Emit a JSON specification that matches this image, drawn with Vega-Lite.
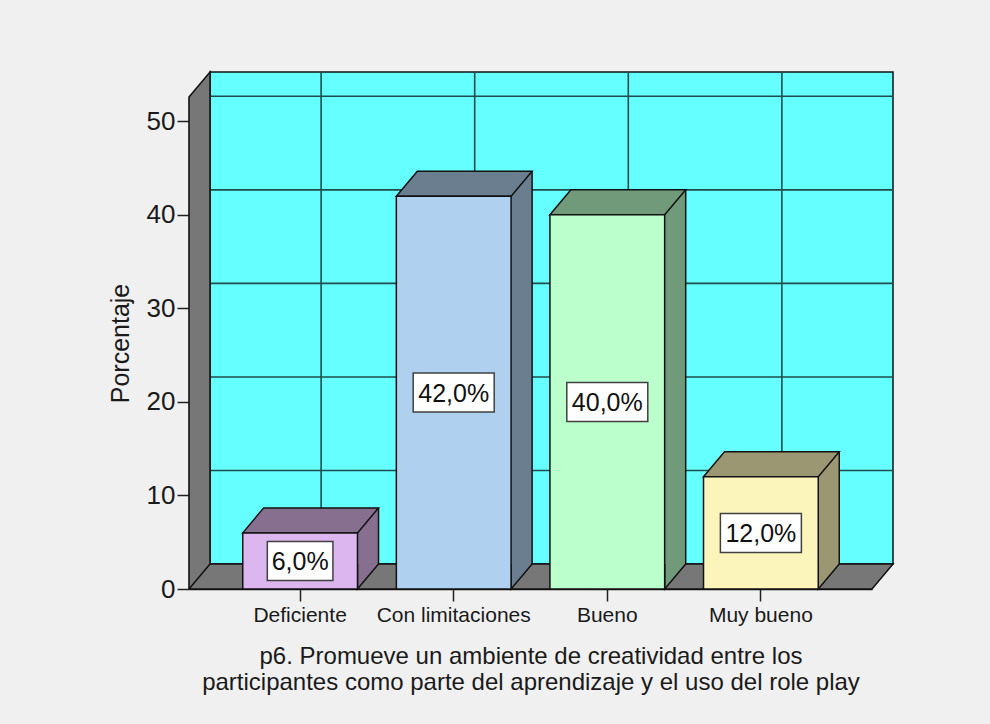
{
  "$schema": "https://vega.github.io/schema/vega-lite/v6.json",
  "width": 683,
  "height": 492,
  "autosize": {"type": "none"},
  "padding": {"left": 189, "top": 97, "right": 118, "bottom": 135},
  "background": "#f0f0f0",
  "config": {
    "view": {"stroke": null},
    "font": "Liberation Sans",
    "locale": {"number": {"decimal": ",", "thousands": ".", "grouping": [3], "currency": ["", "%"]}}
  },
  "data": {
    "values": [
      {"categoria": "Deficiente", "porcentaje": 6},
      {"categoria": "Con limitaciones", "porcentaje": 42},
      {"categoria": "Bueno", "porcentaje": 40},
      {"categoria": "Muy bueno", "porcentaje": 12}
    ]
  },
  "layer": [
    {
      "layer": [
        {
          "data": {"values": [{}]},
          "mark": {"type": "rect", "fill": "#66ffff", "stroke": "#111111", "strokeWidth": 1.5, "opacity": 1, "xOffset": 21, "x2Offset": 21, "yOffset": -25, "y2Offset": -25},
          "encoding": {
            "x": {"value": 0},
            "x2": {"value": "width"},
            "y": {"datum": 52.6, "type": "quantitative", "scale": {"domain": [0, 52.6], "nice": false, "zero": true}, "title": "Porcentaje"},
            "y2": {"datum": 0}
          }
        },
        {
          "data": {"values": [{"nivel": 10}, {"nivel": 20}, {"nivel": 30}, {"nivel": 40}, {"nivel": 50}]},
          "mark": {"type": "rule", "color": "#1f4d4d", "strokeWidth": 1.6, "opacity": 1, "xOffset": 21, "x2Offset": 21, "yOffset": -25},
          "encoding": {
            "x": {"value": 0},
            "x2": {"value": "width"},
            "y": {"field": "nivel", "type": "quantitative", "scale": {"domain": [0, 52.6], "nice": false, "zero": true}, "title": "Porcentaje"}
          }
        },
        {
          "mark": {"type": "rule", "color": "#1f4d4d", "strokeWidth": 1.6, "opacity": 1, "xOffset": 21, "yOffset": -25, "y2Offset": -25},
          "encoding": {
            "x": {"field": "categoria", "type": "nominal", "sort": ["Deficiente", "Con limitaciones", "Bueno", "Muy bueno"], "scale": {"paddingInner": 0.253, "paddingOuter": 0.35}},
            "y": {"datum": 0, "type": "quantitative", "scale": {"domain": [0, 52.6], "nice": false, "zero": true}},
            "y2": {"datum": 52.6}
          }
        },
        {
          "data": {"values": [{}]},
          "mark": {"type": "point", "shape": "M0,-492L21,-517L21,-25L704,-25L683,0L0,0ZM0,0L21,-25", "size": 4, "filled": true, "fill": "#777777", "stroke": "#111111", "strokeWidth": 1.5, "opacity": 1},
          "encoding": {
            "x": {"value": 0},
            "y": {"datum": 0, "type": "quantitative", "scale": {"domain": [0, 52.6], "nice": false, "zero": true}}
          }
        },
        {
          "mark": {"type": "bar", "opacity": 1, "xOffset": 21, "yOffset": -25, "y2Offset": -25},
          "encoding": {
            "x": {"field": "categoria", "type": "nominal", "sort": ["Deficiente", "Con limitaciones", "Bueno", "Muy bueno"], "scale": {"paddingInner": 0.253, "paddingOuter": 0.35}},
            "y": {"field": "porcentaje", "type": "quantitative", "scale": {"domain": [0, 52.6], "nice": false, "zero": true}, "title": "Porcentaje"},
            "y2": {"datum": 0},
            "fill": {"field": "categoria", "type": "nominal", "scale": {"domain": ["Deficiente", "Con limitaciones", "Bueno", "Muy bueno"], "range": ["#87708f", "#6a7e90", "#719a7a", "#9a9772"]}, "legend": null}
          }
        },
        {
          "mark": {"type": "point", "shape": "M-57.4,0L57.4,0L78.4,-25L-36.4,-25Z", "size": 4, "filled": true, "stroke": "#111111", "strokeWidth": 1.5, "opacity": 1},
          "encoding": {
            "x": {"field": "categoria", "type": "nominal", "sort": ["Deficiente", "Con limitaciones", "Bueno", "Muy bueno"], "scale": {"paddingInner": 0.253, "paddingOuter": 0.35}},
            "y": {"field": "porcentaje", "type": "quantitative", "scale": {"domain": [0, 52.6], "nice": false, "zero": true}, "title": "Porcentaje"},
            "fill": {"field": "categoria", "type": "nominal", "legend": null}
          }
        },
        {
          "mark": {"type": "rule", "color": "#111111", "strokeWidth": 1.5, "opacity": 1, "xOffset": 78.4, "yOffset": -25, "y2Offset": -25},
          "encoding": {
            "x": {"field": "categoria", "type": "nominal", "sort": ["Deficiente", "Con limitaciones", "Bueno", "Muy bueno"], "scale": {"paddingInner": 0.253, "paddingOuter": 0.35}},
            "y": {"field": "porcentaje", "type": "quantitative", "scale": {"domain": [0, 52.6], "nice": false, "zero": true}, "title": "Porcentaje"},
            "y2": {"datum": 0}
          }
        },
        {
          "mark": {"type": "point", "shape": "M57.4,-25L57.4,0L78.4,-25", "size": 4, "filled": true, "stroke": "#111111", "strokeWidth": 1.5, "opacity": 1},
          "encoding": {
            "x": {"field": "categoria", "type": "nominal", "sort": ["Deficiente", "Con limitaciones", "Bueno", "Muy bueno"], "scale": {"paddingInner": 0.253, "paddingOuter": 0.35}},
            "y": {"datum": 0, "type": "quantitative", "scale": {"domain": [0, 52.6], "nice": false, "zero": true}},
            "fill": {"field": "categoria", "type": "nominal", "legend": null}
          }
        },
        {
          "mark": {"type": "bar", "opacity": 1, "stroke": "#111111", "strokeWidth": 1.5},
          "encoding": {
            "x": {
              "field": "categoria", "type": "nominal",
              "sort": ["Deficiente", "Con limitaciones", "Bueno", "Muy bueno"],
              "scale": {"paddingInner": 0.253, "paddingOuter": 0.35},
              "axis": {
                "title": ["p6. Promueve un ambiente de creatividad entre los", "participantes como parte del aprendizaje y el uso del role play"],
                "orient": "bottom",
                "labelAngle": 0, "labelAlign": "center", "labelBaseline": "top",
                "labelFontSize": 21, "labelColor": "#1a1a1a", "labelPadding": 3,
                "ticks": true, "tickSize": 12, "tickColor": "#222222", "tickWidth": 1.5,
                "domainColor": "#111111", "domainWidth": 1.5,
                "titleFontSize": 24, "titleFontWeight": "normal", "titleColor": "#1a1a1a", "titleLineHeight": 26, "titlePadding": 19,
                "grid": false
              }
            },
            "y": {
              "field": "porcentaje", "type": "quantitative",
              "scale": {"domain": [0, 52.6], "nice": false, "zero": true},
              "title": "Porcentaje",
              "axis": {
                "values": [0, 10, 20, 30, 40, 50], "format": "d",
                "labelFontSize": 26, "labelColor": "#1a1a1a", "labelPadding": 2,
                "tickSize": 12, "tickColor": "#222222", "tickWidth": 1.5,
                "domainColor": "#111111", "domainWidth": 1.5,
                "titleFontSize": 25, "titleFontWeight": "normal", "titleColor": "#1a1a1a", "titlePadding": 13,
                "grid": false
              }
            },
            "y2": {"datum": 0},
            "color": {"field": "categoria", "type": "nominal", "scale": {"domain": ["Deficiente", "Con limitaciones", "Bueno", "Muy bueno"], "range": ["#dcb6ee", "#afd0ee", "#bbffcc", "#fbf5bb"]}, "legend": null}
          }
        }
      ]
    },
    {
      "encoding": {
        "x": {"field": "categoria", "type": "nominal", "sort": ["Deficiente", "Con limitaciones", "Bueno", "Muy bueno"], "scale": {"paddingInner": 0.253, "paddingOuter": 0.35}},
        "y": {"field": "porcentaje", "type": "quantitative", "scale": {"domain": [0, 105.2], "nice": false, "zero": true}, "axis": null}
      },
      "layer": [
        {
          "mark": {"type": "point", "size": 4, "filled": true, "fill": "#ffffff", "stroke": "#404040", "strokeWidth": 1.5, "opacity": 1},
          "encoding": {
            "shape": {
              "condition": {"test": "datum.porcentaje < 10", "value": "M-32.8,-19.5L32.8,-19.5L32.8,19.5L-32.8,19.5Z"},
              "value": "M-40.5,-19.5L40.5,-19.5L40.5,19.5L-40.5,19.5Z"
            }
          }
        },
        {
          "mark": {"type": "text", "fontSize": 25, "color": "#111111", "align": "center", "baseline": "middle", "dy": 1},
          "encoding": {
            "text": {"field": "porcentaje", "type": "quantitative", "format": "$.1f"}
          }
        }
      ]
    }
  ],
  "resolve": {"scale": {"y": "independent"}}
}
